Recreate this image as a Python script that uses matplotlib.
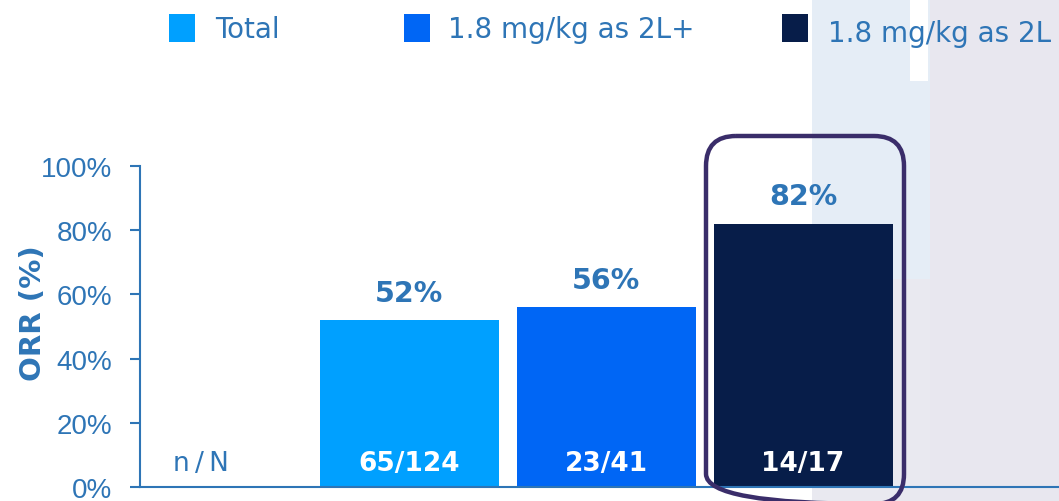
import matplotlib.pyplot as plt
from matplotlib.patches import Rectangle, FancyBboxPatch

groups = ["Total", "1.8 mg/kg as 2L+", "1.8 mg/kg as 2L"]
orr = [52, 56, 82]
counts = ["65/124", "23/41", "14/17"]
colors = ["#00A0FF", "#0066F5", "#071D49"]
yticks = [0, 20, 40, 60, 80, 100]

text_blue = "#2E75B6"
W, H = 1059, 502

fig = plt.figure(figsize=(W / 100, H / 100), dpi=100)

# background shapes on the right
bg = fig.add_axes([0, 0, 1, 1], zorder=-5)
bg.set_xlim(0, W)
bg.set_ylim(H, 0)
bg.axis("off")
bg.add_patch(Rectangle((930, 0), W - 930, H, color="#E8E7EF", lw=0))
bg.add_patch(Rectangle((812, 280), 118, H - 280, color="#E9E9F0", lw=0))
bg.add_patch(Rectangle((812, 0), 118, 280, color="#E5EDF6", lw=0))
bg.add_patch(Rectangle((910, 0), 18, 82, color="#FFFFFF", lw=0))

# axes: y=0 at 488px, y=100 at 167px, spine at x=140
ax = fig.add_axes([140 / W, 1 - 488 / H, 1 - 140 / W, 321 / H])
ax.patch.set_alpha(0)
step = 197.0
x = list(range(len(orr)))
ax.set_xlim(-(409 - 140) / step, (W - 409) / step)
ax.set_ylim(0, 100)

bars = ax.bar(x, orr, width=179 / step, color=colors, zorder=2)

for b, v, c in zip(bars, orr, counts):
    cx = b.get_x() + b.get_width() / 2
    ax.annotate(f"{v}%", (cx, v), xytext=(0, 14), textcoords="offset points",
                ha="center", va="baseline", fontsize=20.5, fontweight="bold",
                color=text_blue, annotation_clip=False)
    ax.annotate(c, (cx, 0), xytext=(0, 12), textcoords="offset points",
                ha="center", va="baseline", fontsize=19, fontweight="bold",
                color="white", zorder=3)

ax.annotate("n\u2009/\u2009N", (-(409 - 173) / step, 0), xytext=(0, 12),
            textcoords="offset points", ha="left", va="baseline",
            fontsize=19, color=text_blue)

# highlight box around the last bar
box = FancyBboxPatch((706, 137), 198, 368, boxstyle="round,pad=0,rounding_size=30",
                     transform=bg.transData, fill=False, ec="#3A2D6A", lw=3.2,
                     clip_on=False, zorder=10)
fig.patches.append(box)

ax.set_yticks(yticks)
ax.set_yticklabels([f"{t}%" for t in yticks], fontsize=20, color=text_blue,
                   family="Liberation Sans")
ax.set_xticks([])
ax.tick_params(axis="y", colors=text_blue, length=7, width=1.5, pad=13)
for s in ["top", "right"]:
    ax.spines[s].set_visible(False)
for s in ["left", "bottom"]:
    ax.spines[s].set_color(text_blue)
    ax.spines[s].set_linewidth(1.5)

fig.text(33 / W, 1 - 313 / H, "ORR (%)", rotation=90, ha="center", va="center",
         fontsize=21, fontweight="bold", color=text_blue)

# legend
legend_items = [(169, 215, 38), (404, 448, 38), (782, 828, 42)]
for (sq, tx, base), name, col in zip(legend_items, groups, colors):
    fig.patches.append(Rectangle((sq / W, 1 - 43 / H), 26 / W, 28 / H,
                                 transform=fig.transFigure, color=col, lw=0))
    fig.text(tx / W, 1 - base / H, name, ha="left", va="baseline",
             fontsize=20, color=text_blue)

fig.savefig("out.png", dpi=100)
